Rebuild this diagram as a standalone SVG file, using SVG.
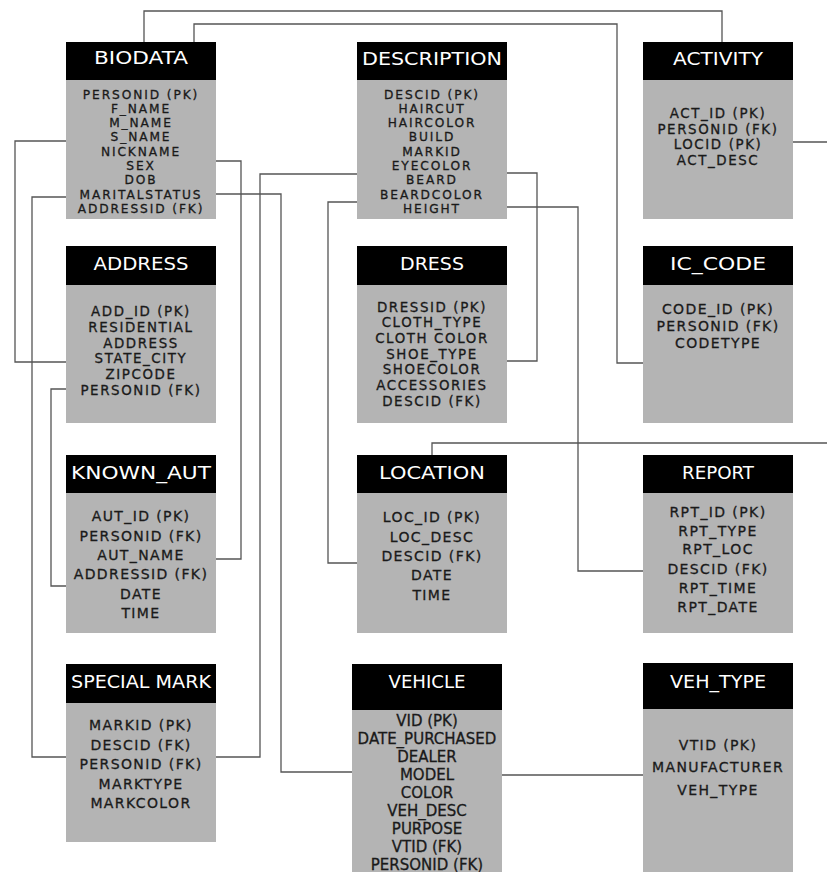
<svg xmlns="http://www.w3.org/2000/svg" width="827" height="872" viewBox="0 0 827 872">
  <style>
    .hd { fill: #000; }
    .bd { fill: #b4b4b4; }
    .title { font-family: "DejaVu Sans", "Liberation Sans", sans-serif; font-size: 17px; fill: #fff; text-anchor: middle; }
    .row { font-family: "DejaVu Sans", "Liberation Sans", sans-serif; font-size: 14px; fill: #1a1a1a; stroke: #1a1a1a; stroke-width: 0.3; text-anchor: middle; letter-spacing: 1.4px; }
    .row.dense { font-size: 12.2px; letter-spacing: 1.9px; }
    .row.mid { font-size: 13.4px; letter-spacing: 1.6px; }
    .row.tight { font-size: 15px; letter-spacing: 0px; }
    .link { fill: none; stroke: #555; stroke-width: 1.3; }
  </style>

  <rect width="827" height="872" fill="#fff"/>

  <!-- relationships between tables -->
  <g id="connectors">
    <path class="link" d="M144,42 V11 H722 V42"/>
    <path class="link" d="M194,42 V24 H617 V363 H643"/>
    <path class="link" d="M793,142 H827"/>
    <path class="link" d="M432,455 V443 H827"/>
    <path class="link" d="M507,207 H578 V571 H643"/>
    <path class="link" d="M507,173 H537 V361 H507"/>
    <path class="link" d="M357,174 H260 V757 H216"/>
    <path class="link" d="M216,194 H281 V772 H352"/>
    <path class="link" d="M216,161 H241 V559 H216"/>
    <path class="link" d="M66,141 H15 V362 H66"/>
    <path class="link" d="M66,197 H32 V757 H66"/>
    <path class="link" d="M66,389 H51 V586 H66"/>
    <path class="link" d="M357,202 H328 V563 H357"/>
    <path class="link" d="M502,775 H643"/>
  </g>

  <g id="biodata">
    <rect class="bd" x="66" y="80" width="150" height="139"/>
    <rect class="hd" x="66" y="42" width="150" height="38"/>
    <text class="title" x="141" y="64" textLength="94" lengthAdjust="spacingAndGlyphs">BIODATA</text>
    <text class="row dense" x="141" y="98.5">PERSONID (PK)</text>
    <text class="row dense" x="141" y="112.8">F_NAME</text>
    <text class="row dense" x="141" y="127.1">M_NAME</text>
    <text class="row dense" x="141" y="141.4">S_NAME</text>
    <text class="row dense" x="141" y="155.7">NICKNAME</text>
    <text class="row dense" x="141" y="170">SEX</text>
    <text class="row dense" x="141" y="184.3">DOB</text>
    <text class="row dense" x="141" y="198.6">MARITALSTATUS</text>
    <text class="row dense" x="141" y="212.9">ADDRESSID (FK)</text>
  </g>

  <g id="description">
    <rect class="bd" x="357" y="80" width="150" height="139"/>
    <rect class="hd" x="357" y="42" width="150" height="38"/>
    <text class="title" x="432" y="65" textLength="140" lengthAdjust="spacingAndGlyphs">DESCRIPTION</text>
    <text class="row dense" x="432" y="98.5">DESCID (PK)</text>
    <text class="row dense" x="432" y="112.8">HAIRCUT</text>
    <text class="row dense" x="432" y="127.1">HAIRCOLOR</text>
    <text class="row dense" x="432" y="141.4">BUILD</text>
    <text class="row dense" x="432" y="155.7">MARKID</text>
    <text class="row dense" x="432" y="170">EYECOLOR</text>
    <text class="row dense" x="432" y="184.3">BEARD</text>
    <text class="row dense" x="432" y="198.6">BEARDCOLOR</text>
    <text class="row dense" x="432" y="212.9">HEIGHT</text>
  </g>

  <g id="activity">
    <rect class="bd" x="643" y="80" width="150" height="139"/>
    <rect class="hd" x="643" y="42" width="150" height="38"/>
    <text class="title" x="718" y="65" textLength="90" lengthAdjust="spacingAndGlyphs">ACTIVITY</text>
    <text class="row mid" x="718" y="118">ACT_ID (PK)</text>
    <text class="row mid" x="718" y="133.5">PERSONID (FK)</text>
    <text class="row mid" x="718" y="149">LOCID (PK)</text>
    <text class="row mid" x="718" y="164.5">ACT_DESC</text>
  </g>

  <g id="address">
    <rect class="bd" x="66" y="285" width="150" height="138"/>
    <rect class="hd" x="66" y="246" width="150" height="39"/>
    <text class="title" x="141" y="270" textLength="95" lengthAdjust="spacingAndGlyphs">ADDRESS</text>
    <text class="row mid" x="141" y="316">ADD_ID (PK)</text>
    <text class="row mid" x="141" y="331.8">RESIDENTIAL</text>
    <text class="row mid" x="141" y="347.6">ADDRESS</text>
    <text class="row mid" x="141" y="363.4">STATE_CITY</text>
    <text class="row mid" x="141" y="379.2">ZIPCODE</text>
    <text class="row mid" x="141" y="395">PERSONID (FK)</text>
  </g>

  <g id="dress">
    <rect class="bd" x="357" y="285" width="150" height="138"/>
    <rect class="hd" x="357" y="246" width="150" height="39"/>
    <text class="title" x="432" y="270" textLength="64" lengthAdjust="spacingAndGlyphs">DRESS</text>
    <text class="row mid" x="432" y="311.5">DRESSID (PK)</text>
    <text class="row mid" x="432" y="327.2">CLOTH_TYPE</text>
    <text class="row mid" x="432" y="342.9">CLOTH COLOR</text>
    <text class="row mid" x="432" y="358.6">SHOE_TYPE</text>
    <text class="row mid" x="432" y="374.3">SHOECOLOR</text>
    <text class="row mid" x="432" y="390">ACCESSORIES</text>
    <text class="row mid" x="432" y="405.7">DESCID (FK)</text>
  </g>

  <g id="ic_code">
    <rect class="bd" x="643" y="285" width="150" height="138"/>
    <rect class="hd" x="643" y="246" width="150" height="39"/>
    <text class="title" x="718" y="270" textLength="96" lengthAdjust="spacingAndGlyphs">IC_CODE</text>
    <text class="row" x="718" y="314">CODE_ID (PK)</text>
    <text class="row" x="718" y="331">PERSONID (FK)</text>
    <text class="row" x="718" y="348">CODETYPE</text>
  </g>

  <g id="known_aut">
    <rect class="bd" x="66" y="493" width="150" height="140"/>
    <rect class="hd" x="66" y="455" width="150" height="38"/>
    <text class="title" x="141" y="479" textLength="140" lengthAdjust="spacingAndGlyphs">KNOWN_AUT</text>
    <text class="row" x="141" y="521">AUT_ID (PK)</text>
    <text class="row" x="141" y="540.5">PERSONID (FK)</text>
    <text class="row" x="141" y="559.5">AUT_NAME</text>
    <text class="row" x="141" y="579">ADDRESSID (FK)</text>
    <text class="row" x="141" y="598.5">DATE</text>
    <text class="row" x="141" y="617.5">TIME</text>
  </g>

  <g id="location">
    <rect class="bd" x="357" y="493" width="150" height="140"/>
    <rect class="hd" x="357" y="455" width="150" height="38"/>
    <text class="title" x="432" y="479" textLength="106" lengthAdjust="spacingAndGlyphs">LOCATION</text>
    <text class="row" x="432" y="522">LOC_ID (PK)</text>
    <text class="row" x="432" y="541.5">LOC_DESC</text>
    <text class="row" x="432" y="561">DESCID (FK)</text>
    <text class="row" x="432" y="580">DATE</text>
    <text class="row" x="432" y="600">TIME</text>
  </g>

  <g id="report">
    <rect class="bd" x="643" y="493" width="150" height="140"/>
    <rect class="hd" x="643" y="455" width="150" height="38"/>
    <text class="title" x="718" y="479" textLength="72" lengthAdjust="spacingAndGlyphs">REPORT</text>
    <text class="row" x="718" y="516.5">RPT_ID (PK)</text>
    <text class="row" x="718" y="535.5">RPT_TYPE</text>
    <text class="row" x="718" y="554">RPT_LOC</text>
    <text class="row" x="718" y="574">DESCID (FK)</text>
    <text class="row" x="718" y="593">RPT_TIME</text>
    <text class="row" x="718" y="611.5">RPT_DATE</text>
  </g>

  <g id="special_mark">
    <rect class="bd" x="66" y="703" width="150" height="139"/>
    <rect class="hd" x="66" y="664" width="150" height="39"/>
    <text class="title" x="141" y="688" textLength="140" lengthAdjust="spacingAndGlyphs">SPECIAL MARK</text>
    <text class="row" x="141" y="730">MARKID (PK)</text>
    <text class="row" x="141" y="749.5">DESCID (FK)</text>
    <text class="row" x="141" y="769">PERSONID (FK)</text>
    <text class="row" x="141" y="788.5">MARKTYPE</text>
    <text class="row" x="141" y="808">MARKCOLOR</text>
  </g>

  <g id="vehicle">
    <rect class="bd" x="352" y="710" width="150" height="162"/>
    <rect class="hd" x="352" y="664" width="150" height="46"/>
    <text class="title" x="427" y="688" textLength="77" lengthAdjust="spacingAndGlyphs">VEHICLE</text>
    <text class="row tight" x="427" y="725.5">VID (PK)</text>
    <text class="row tight" x="427" y="743.5">DATE_PURCHASED</text>
    <text class="row tight" x="427" y="761.5">DEALER</text>
    <text class="row tight" x="427" y="779.5">MODEL</text>
    <text class="row tight" x="427" y="797.5">COLOR</text>
    <text class="row tight" x="427" y="815.5">VEH_DESC</text>
    <text class="row tight" x="427" y="833.5">PURPOSE</text>
    <text class="row tight" x="427" y="851.5">VTID (FK)</text>
    <text class="row tight" x="427" y="869.5">PERSONID (FK)</text>
  </g>

  <g id="veh_type">
    <rect class="bd" x="643" y="709" width="150" height="163"/>
    <rect class="hd" x="643" y="663" width="150" height="46"/>
    <text class="title" x="718" y="688" textLength="96" lengthAdjust="spacingAndGlyphs">VEH_TYPE</text>
    <text class="row" x="718" y="749.5">VTID (PK)</text>
    <text class="row" x="718" y="772">MANUFACTURER</text>
    <text class="row" x="718" y="795">VEH_TYPE</text>
  </g>
</svg>
